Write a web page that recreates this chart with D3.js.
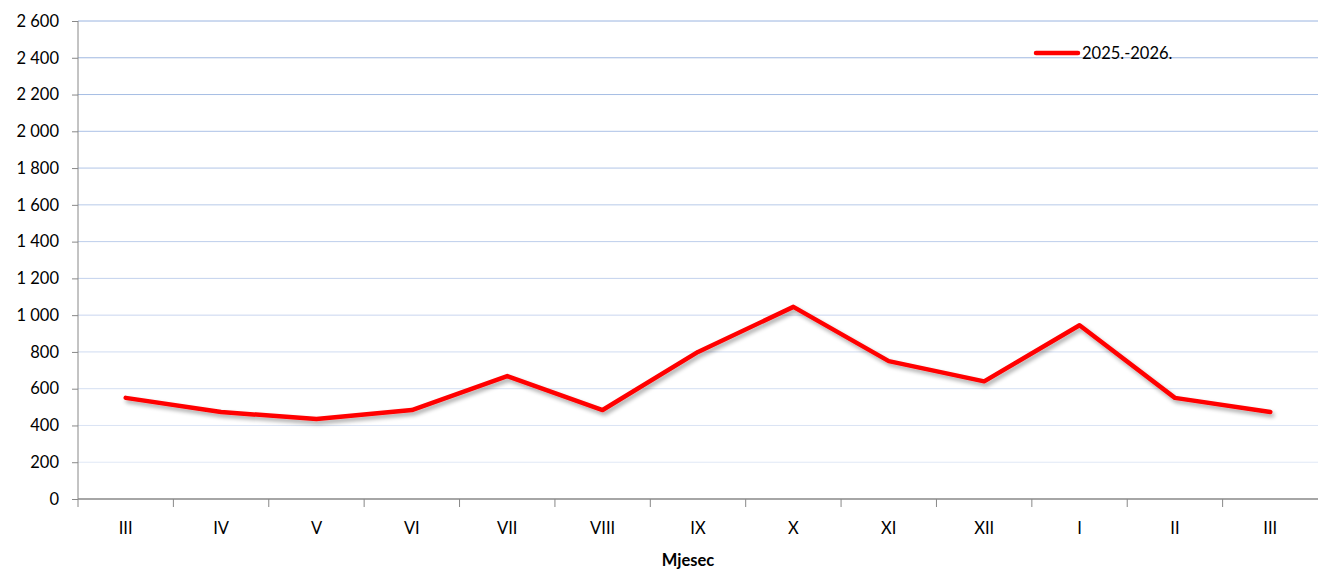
<!DOCTYPE html>
<html><head><meta charset="utf-8">
<script src="https://cdn.jsdelivr.net/npm/d3@7"></script>
<style>body{margin:0;background:#fff}svg{display:block;font-family:Lato,"Open Sans",sans-serif}</style>
</head><body><svg id="c" width="1318" height="572"></svg>
<script>
const categories = ["III","IV","V","VI","VII","VIII","IX","X","XI","XII","I","II","III"];
const values = [550, 473, 435, 484, 669, 484, 800, 1045, 750, 640, 945, 550, 473];
const yTicks = [0,200,400,600,800,1000,1200,1400,1600,1800,2000,2200,2400,2600];
const seriesName = "2025.-2026.";
const xTitle = "Mjesec";

const svg = d3.select("#c");
const L = 78, R = 1318, T = 21, B = 499;
const x = d3.scaleBand().domain(d3.range(categories.length)).range([L, R]);
const y = d3.scaleLinear().domain([0, 2600]).range([B, T]);
const fmt = v => d3.format(",")(v).replace(/,/g, " ");
const gridCol = d3.scaleLinear().domain([0, 2600]).range(["#e6ecf8", "#9ab4e0"]);
const FS = 16.5;

// gridlines
svg.append("g").selectAll("line").data(yTicks.filter(d => d > 0)).join("line")
  .attr("x1", L).attr("x2", R).attr("y1", d => y(d)).attr("y2", d => y(d))
  .attr("stroke", d => gridCol(d)).attr("stroke-width", 1);

// y axis
const ya = svg.append("g").attr("transform", `translate(${L},0)`)
  .call(d3.axisLeft(y).tickValues(yTicks).tickFormat(fmt).tickSize(6).tickPadding(13));
ya.select(".domain").attr("stroke", "#888").attr("d", `M0,${T}V${B+8}`);
ya.selectAll(".tick line").attr("stroke", "#888");
ya.selectAll("text").attr("font-size", FS).attr("fill", "#000").attr("font-family", "Lato,sans-serif");

// x axis
const xa = svg.append("g").attr("transform", `translate(0,${B})`);
xa.append("line").attr("x1", L).attr("x2", R).attr("y1", 0).attr("y2", 0).attr("stroke", "#888").attr("stroke-width", 1.5);
xa.selectAll("line.t").data(d3.range(1, categories.length)).join("line").attr("class","t")
  .attr("x1", d => x(d)).attr("x2", d => x(d)).attr("y1", 0).attr("y2", 8).attr("stroke", "#888");
xa.selectAll("text").data(categories).join("text")
  .attr("x", (d, i) => x(i) + x.bandwidth() / 2).attr("y", 35)
  .attr("text-anchor", "middle").attr("font-size", FS).text(d => d);

svg.append("text").attr("x", (L + R) / 2 - 10).attr("y", 566).attr("text-anchor", "middle")
  .attr("font-size", FS).attr("font-weight", "bold").text(xTitle);

// shadow filter
const defs = svg.append("defs");
const f = defs.append("filter").attr("id", "sh").attr("x", "-10%").attr("y", "-50%").attr("width", "120%").attr("height", "200%");
f.append("feGaussianBlur").attr("in", "SourceAlpha").attr("stdDeviation", 2).attr("result", "b");
f.append("feOffset").attr("in", "b").attr("dx", 2).attr("dy", 3).attr("result", "o");
f.append("feComponentTransfer").attr("in", "o").attr("result", "o2").append("feFuncA").attr("type", "linear").attr("slope", 0.35);
const m = f.append("feMerge"); m.append("feMergeNode").attr("in", "o2"); m.append("feMergeNode").attr("in", "SourceGraphic");

const line = d3.line().x((d, i) => x(i) + x.bandwidth() / 2).y(d => y(d));
svg.append("path").datum(values).attr("d", line).attr("fill", "none")
  .attr("stroke", "#ff0000").attr("stroke-width", 4.5).attr("stroke-linejoin", "round").attr("stroke-linecap", "round")
  .attr("filter", "url(#sh)");

// legend
svg.append("line").attr("x1", 1036).attr("x2", 1078).attr("y1", 53).attr("y2", 53)
  .attr("stroke", "#ff0000").attr("stroke-width", 4.5).attr("stroke-linecap", "round");
svg.append("text").attr("x", 1082).attr("y", 59).attr("font-size", FS).text(seriesName);
</script></body></html>
